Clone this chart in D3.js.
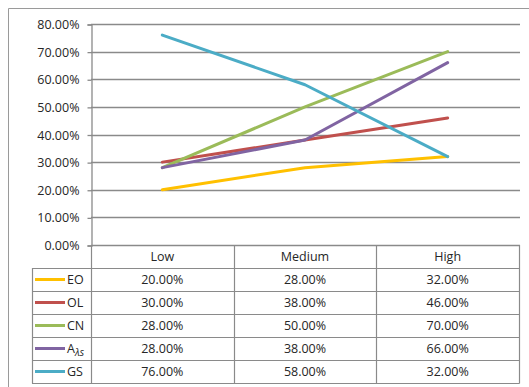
<!DOCTYPE html>
<html>
<head>
<meta charset="utf-8">
<script src="https://cdn.jsdelivr.net/npm/d3@7"></script>
<style>
  html, body { margin: 0; padding: 0; background: #fff; }
  svg { display: block; font-family: "Open Sans", "Noto Sans", sans-serif; }
</style>
</head>
<body>
<svg id="chart" width="529" height="387"></svg>
<script>
// Category columns, series and axis ticks
const categories = ["Low", "Medium", "High"];
const seriesNames = ["EO", "OL", "CN", "Aλs", "GS"];
const seriesColors = ["#FFC000", "#C0504D", "#9BBB59", "#8064A2", "#4BACC6"];
const valuesEO = [0.20, 0.28, 0.32];
const valuesOL = [0.30, 0.38, 0.46];
const valuesCN = [0.28, 0.50, 0.70];
const valuesAls = [0.28, 0.38, 0.66];
const valuesGS = [0.76, 0.58, 0.32];
const yTicks = [0, 0.1, 0.2, 0.3, 0.4, 0.5, 0.6, 0.7, 0.8];

const seriesValues = [valuesEO, valuesOL, valuesCN, valuesAls, valuesGS];
const series = seriesNames.map((name, i) => ({ name, color: seriesColors[i], values: seriesValues[i] }));

const svg = d3.select("#chart");
const fmt = d3.format(".2%");
const gridColor = "#8a8a8a";
const textColor = "#262626";
const fontSize = "12.5px";

// Outer chart frame (top and left edges visible)
svg.append("path")
  .attr("d", "M8.5,400 V8.5 H540")
  .attr("fill", "none").attr("stroke", "#9a9a9a").attr("stroke-width", 1);

// Scales
const x = d3.scaleBand().domain(categories).range([91, 519]);
const y = d3.scaleLinear().domain([0, 0.8]).range([245, 24]);
const rows = d3.scaleBand().domain(["__header"].concat(seriesNames)).range([245, 383]);
const cx = c => x(c) + x.bandwidth() / 2;

// Horizontal gridlines
svg.append("g").selectAll("line").data(yTicks).join("line")
  .attr("x1", 91).attr("x2", 520)
  .attr("y1", d => Math.round(y(d)) + 0.5).attr("y2", d => Math.round(y(d)) + 0.5)
  .attr("stroke", gridColor).attr("stroke-width", 1.3);

// Y axis with percent labels
const yAxis = svg.append("g")
  .attr("transform", "translate(91.5,0.5)")
  .call(d3.axisLeft(y).tickValues(yTicks).tickFormat(fmt).tickSize(4).tickPadding(8));
yAxis.select(".domain").attr("stroke", gridColor).attr("stroke-width", 1.3);
yAxis.selectAll(".tick line").attr("stroke", gridColor).attr("stroke-width", 1.3);
yAxis.selectAll(".tick text")
  .attr("fill", textColor).style("font-size", fontSize)
  .style("font-family", "'Open Sans', sans-serif");

// Data table grid
const tableLeft = 32, plotLeft = 91, tableRight = 519;
const tg = svg.append("g").attr("stroke", gridColor).attr("stroke-width", 1.2);
// column separators
[plotLeft].concat(categories.map(c => x(c) + x.bandwidth())).forEach(xx => {
  tg.append("line").attr("x1", Math.round(xx) + 0.5).attr("x2", Math.round(xx) + 0.5)
    .attr("y1", 245).attr("y2", 383.5);
});
// legend column left edge
tg.append("line").attr("x1", tableLeft + 0.5).attr("x2", tableLeft + 0.5)
  .attr("y1", rows(seriesNames[0])).attr("y2", 383.5);
// row separators
seriesNames.forEach(n => {
  const yy = Math.round(rows(n)) + 0.5;
  tg.append("line").attr("x1", tableLeft).attr("x2", tableRight + 0.5).attr("y1", yy).attr("y2", yy);
});
tg.append("line").attr("x1", tableLeft).attr("x2", tableRight + 0.5).attr("y1", 383.5).attr("y2", 383.5);

// Header row: category names
svg.append("g").selectAll("text").data(categories).join("text")
  .attr("x", d => cx(d))
  .attr("y", rows("__header") + rows.bandwidth() / 2)
  .attr("dy", "0.35em")
  .attr("text-anchor", "middle")
  .attr("fill", textColor).style("font-size", fontSize)
  .text(d => d);

// Table body: legend key plus values
const rowG = svg.append("g").selectAll("g").data(series).join("g")
  .attr("transform", d => `translate(0,${rows(d.name) + rows.bandwidth() / 2})`);
rowG.append("line")
  .attr("x1", 35).attr("x2", 65).attr("y1", 0).attr("y2", 0)
  .attr("stroke", d => d.color).attr("stroke-width", 3);
rowG.each(function(d) {
  const t = d3.select(this).append("text")
    .attr("x", 67).attr("dy", "0.35em")
    .attr("fill", textColor).style("font-size", fontSize);
  if (d.name === "Aλs") {
    t.append("tspan").text("A");
    t.append("tspan").attr("dy", "0.3em").style("font-size", "10px").style("font-style", "italic").text("λs");
  } else {
    t.text(d.name);
  }
});
rowG.selectAll("text.val").data(d => d.values.map((v, i) => ({ v, c: categories[i] }))).join("text")
  .attr("class", "val")
  .attr("x", d => cx(d.c)).attr("dy", "0.35em")
  .attr("text-anchor", "middle")
  .attr("fill", textColor).style("font-size", fontSize)
  .text(d => fmt(d.v));

// Series lines
const line = d3.line().x((d, i) => cx(categories[i])).y(d => y(d));
svg.append("g").selectAll("path").data(series).join("path")
  .attr("d", d => line(d.values))
  .attr("fill", "none")
  .attr("stroke", d => d.color)
  .attr("stroke-width", 3)
  .attr("stroke-linejoin", "round")
  .attr("stroke-linecap", "round");
</script>
</body>
</html>
